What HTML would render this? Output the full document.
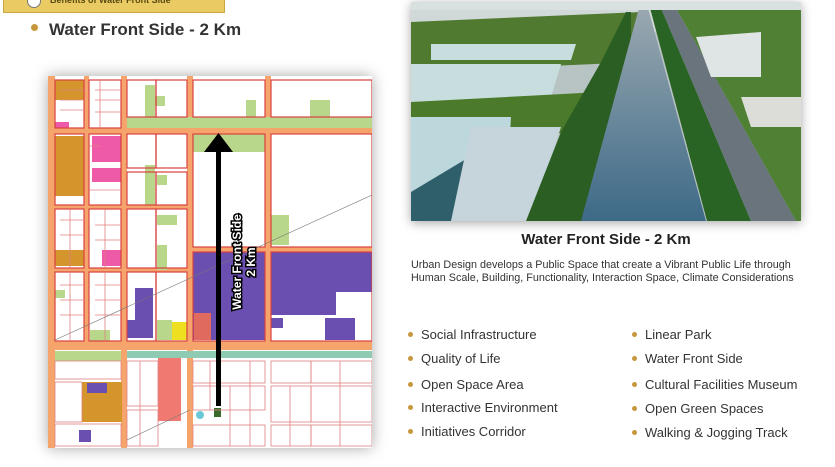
<!DOCTYPE html>
<html><head><meta charset="utf-8"><style>
body{margin:0;width:835px;height:467px;background:#fff;position:relative;overflow:hidden;font-family:"Liberation Sans",sans-serif;}
.abs{position:absolute}
.b{position:absolute;color:#333;font-size:13px;}
.b:before{content:"";position:absolute;left:-13px;top:5px;width:5px;height:5px;border-radius:50%;background:#c8963c;}
</style></head><body>
<div class="abs" style="left:3px;top:-4px;width:220px;height:15px;background:#eacb63;border:1px solid #c9a842;"></div>
<div class="abs" style="left:27px;top:-6px;width:12px;height:12px;border-radius:50%;background:#fff;border:1px solid #777"></div>
<div class="abs" style="left:50px;top:-5px;font-size:9px;font-weight:bold;color:#5a4a10">Benefits of Water Front Side</div>
<div class="abs" style="left:31px;top:24px;width:7px;height:7px;border-radius:50%;background:#c8963c"></div>
<div class="abs" style="left:49px;top:20px;font-size:17px;font-weight:bold;color:#333">Water Front Side - 2 Km</div>

<div class="abs" style="left:48px;top:76px;width:324px;height:372px;box-shadow:0 0 14px rgba(0,0,0,0.35);background:#fff"></div>
<svg class="abs" style="left:48px;top:76px" width="324" height="372" viewBox="48 76 324 372">
<rect x="48" y="76" width="324" height="372" fill="#fff"/>
<g fill="#f5a56c">
<rect x="48" y="76" width="7" height="372"/>
<rect x="84" y="76" width="5" height="270"/>
<rect x="121" y="76" width="6" height="372"/>
<rect x="187" y="76" width="6" height="372"/>
<rect x="265" y="76" width="6" height="270"/>
<rect x="48" y="128" width="324" height="6"/>
<rect x="48" y="341" width="324" height="9"/>
<rect x="48" y="205" width="140" height="4"/>
<rect x="193" y="247" width="179" height="5"/>
<rect x="48" y="268" width="140" height="4"/>
</g>
<g fill="#b9d78a">
<rect x="127" y="117" width="245" height="11"/>
<rect x="193" y="134" width="72" height="18"/>
<rect x="145" y="85" width="10" height="32"/><rect x="155" y="96" width="10" height="10"/>
<rect x="246" y="100" width="10" height="17"/><rect x="310" y="100" width="20" height="17"/>
<rect x="145" y="165" width="10" height="40"/><rect x="157" y="175" width="10" height="10"/>
<rect x="157" y="215" width="20" height="10"/><rect x="157" y="245" width="10" height="25"/>
<rect x="271" y="215" width="18" height="30"/>
<rect x="55" y="290" width="10" height="8"/><rect x="90" y="330" width="20" height="11"/>
<rect x="157" y="320" width="15" height="20"/>
<rect x="55" y="351" width="66" height="10"/>
</g>
<g fill="#d4962c">
<rect x="55" y="80" width="29" height="20"/>
<rect x="55" y="136" width="29" height="60"/>
<rect x="55" y="250" width="29" height="16"/>
<rect x="82" y="382" width="40" height="40"/>
</g>
<g fill="#ee5aa8">
<rect x="92" y="136" width="29" height="26"/>
<rect x="92" y="168" width="29" height="14"/>
<rect x="102" y="250" width="19" height="16"/>
<rect x="55" y="122" width="14" height="6"/>
</g>
<g fill="#6a4fb0">
<rect x="193" y="252" width="72" height="88"/>
<rect x="271" y="252" width="101" height="63"/>
<rect x="271" y="318" width="12" height="10"/>
<rect x="325" y="318" width="30" height="22"/>
<rect x="135" y="288" width="18" height="50"/>
<rect x="127" y="320" width="26" height="18"/>
<rect x="87" y="383" width="20" height="10"/>
<rect x="79" y="430" width="12" height="12"/>
</g>
<rect x="336" y="292" width="36" height="23" fill="#fff"/>
<rect x="194" y="313" width="17" height="27" fill="#e06a5e"/>
<rect x="172" y="322" width="15" height="18" fill="#eee020"/>
<rect x="158" y="351" width="23" height="70" fill="#f07a72"/>
<rect x="127" y="351" width="245" height="7" fill="#8fcbb2"/>
<circle cx="200" cy="415" r="4" fill="#6cc8d8"/>
<rect x="214" y="408" width="7" height="9" fill="#3a6a2a"/>
<g fill="none" stroke="#d84040" stroke-width="1.2">
<rect x="55" y="80" width="29" height="48"/><rect x="89" y="80" width="32" height="48"/>
<rect x="127" y="80" width="29" height="37"/><rect x="156" y="80" width="31" height="37"/>
<rect x="193" y="80" width="72" height="37"/><rect x="271" y="80" width="101" height="37"/>
<rect x="55" y="134" width="29" height="71"/><rect x="89" y="134" width="32" height="71"/>
<rect x="127" y="134" width="29" height="34"/><rect x="156" y="134" width="31" height="34"/>
<rect x="127" y="172" width="29" height="33"/><rect x="156" y="172" width="31" height="33"/>
<rect x="127" y="209" width="29" height="59"/><rect x="156" y="209" width="31" height="59"/>
<rect x="55" y="209" width="29" height="59"/><rect x="89" y="209" width="32" height="59"/>
<rect x="55" y="272" width="29" height="69"/><rect x="89" y="272" width="32" height="69"/>
<rect x="127" y="272" width="29" height="69"/><rect x="156" y="272" width="31" height="69"/>
<rect x="193" y="134" width="72" height="113"/><rect x="271" y="134" width="101" height="113"/>
<rect x="193" y="252" width="72" height="89"/><rect x="271" y="252" width="101" height="89"/>
</g>
<g fill="none" stroke="#e08080" stroke-width="0.8">
<rect x="55" y="361" width="66" height="18"/><rect x="55" y="382" width="27" height="40"/><rect x="55" y="424" width="66" height="22"/>
<path d="M60 90H84M60 100H84M60 110H84M95 90H121M95 100H121M95 112H121M100 80V128M89 146H100M89 190H121M60 220H84M60 235H84M95 225H121M95 240H121M60 285H84M60 300H84M60 315H84M95 285H121M95 300H121M95 315H121M70 272V341M105 272V341M70 209V268M105 209V268"/>
<rect x="127" y="361" width="31" height="45"/><rect x="127" y="410" width="31" height="36"/>
<rect x="193" y="361" width="72" height="22"/><rect x="193" y="386" width="72" height="24"/><rect x="193" y="425" width="72" height="21"/>
<rect x="271" y="361" width="40" height="22"/><rect x="311" y="361" width="61" height="22"/>
<rect x="271" y="386" width="40" height="36"/><rect x="311" y="386" width="61" height="36"/>
<rect x="271" y="425" width="40" height="21"/><rect x="311" y="425" width="61" height="21"/>
<path d="M140 361V446M210 361V410M230 386V446M250 361V446M290 386V446M340 361V446"/>
</g>
<path d="M55 340L372 195" stroke="#777" stroke-width="0.6"/>
<path d="M127 440L190 410" stroke="#777" stroke-width="0.6"/>
<rect x="216" y="150" width="5" height="256" fill="#000"/>
<polygon points="218.5,133 204,152 233,152" fill="#000"/>
<g transform="translate(244,262) rotate(-90)">
<text x="0" y="-3" text-anchor="middle" font-size="12" font-weight="bold" fill="#fff" stroke="#000" stroke-width="3" paint-order="stroke">Water Front Side</text>
<text x="0" y="11" text-anchor="middle" font-size="12" font-weight="bold" fill="#fff" stroke="#000" stroke-width="3" paint-order="stroke">2 Km</text>
</g>
</svg>

<div class="abs" style="left:411px;top:2px;width:390px;height:219px;box-shadow:0 2px 10px rgba(0,0,0,0.35)"></div>
<svg class="abs" style="left:411px;top:2px" width="390" height="219" viewBox="0 0 390 219">
<defs><linearGradient id="w" x1="0" y1="0" x2="0" y2="1"><stop offset="0" stop-color="#9aa8b0"/><stop offset="1" stop-color="#3d6a88"/></linearGradient></defs>
<rect width="390" height="219" fill="#b8c4c4"/>
<rect width="390" height="30" fill="#d0d8d8"/>
<polygon points="0,20 230,10 230,60 0,70" fill="#4f7a30"/>
<polygon points="20,42 165,42 160,58 20,58" fill="#c8dede"/>
<polygon points="0,62 150,62 140,95 0,100" fill="#c8dede"/>
<polygon points="0,100 190,90 200,130 0,135" fill="#4a7a2a"/>
<polygon points="0,115 100,115 95,200 0,215" fill="#bcd8dc"/>
<polygon points="0,190 100,130 95,219 0,219" fill="#2f5f6a"/>
<polygon points="60,125 40,219 120,219 150,125" fill="#c6d4dc"/>
<polygon points="150,130 190,60 215,10 220,10 220,219 115,219" fill="#2a5e22"/>
<polygon points="228,6 237,6 295,219 170,219" fill="url(#w)"/>
<polygon points="239,6 250,6 340,219 296,219" fill="#2a6424"/>
<polygon points="250,6 265,6 385,219 340,219" fill="#6a747c"/>
<polygon points="265,6 390,6 390,219 385,219" fill="#4f8034"/>
<polygon points="285,35 350,30 350,75 300,75" fill="#dfe4e4"/>
<polygon points="330,95 390,95 390,125 340,125" fill="#dcdcd8"/>
<rect x="0" y="0" width="390" height="8" fill="#d8e0e0"/>
</svg>

<div class="abs" style="left:411px;top:231px;width:390px;text-align:center;font-size:15px;font-weight:bold;color:#222">Water Front Side - 2 Km</div>
<div class="abs" style="left:411px;top:259px;font-size:10.8px;line-height:13px;color:#333;white-space:nowrap">Urban Design develops a Public Space that create a Vibrant Public Life through<br>Human Scale, Building, Functionality, Interaction Space, Climate Considerations</div>
<div class="b" style="left:421px;top:327px">Social Infrastructure</div>
<div class="b" style="left:421px;top:351px">Quality of Life</div>
<div class="b" style="left:421px;top:377px">Open Space Area</div>
<div class="b" style="left:421px;top:400px">Interactive Environment</div>
<div class="b" style="left:421px;top:424px">Initiatives Corridor</div>
<div class="b" style="left:645px;top:327px">Linear Park</div>
<div class="b" style="left:645px;top:351px">Water Front Side</div>
<div class="b" style="left:645px;top:377px">Cultural Facilities Museum</div>
<div class="b" style="left:645px;top:401px">Open Green Spaces</div>
<div class="b" style="left:645px;top:425px">Walking &amp; Jogging Track</div>
</body></html>
